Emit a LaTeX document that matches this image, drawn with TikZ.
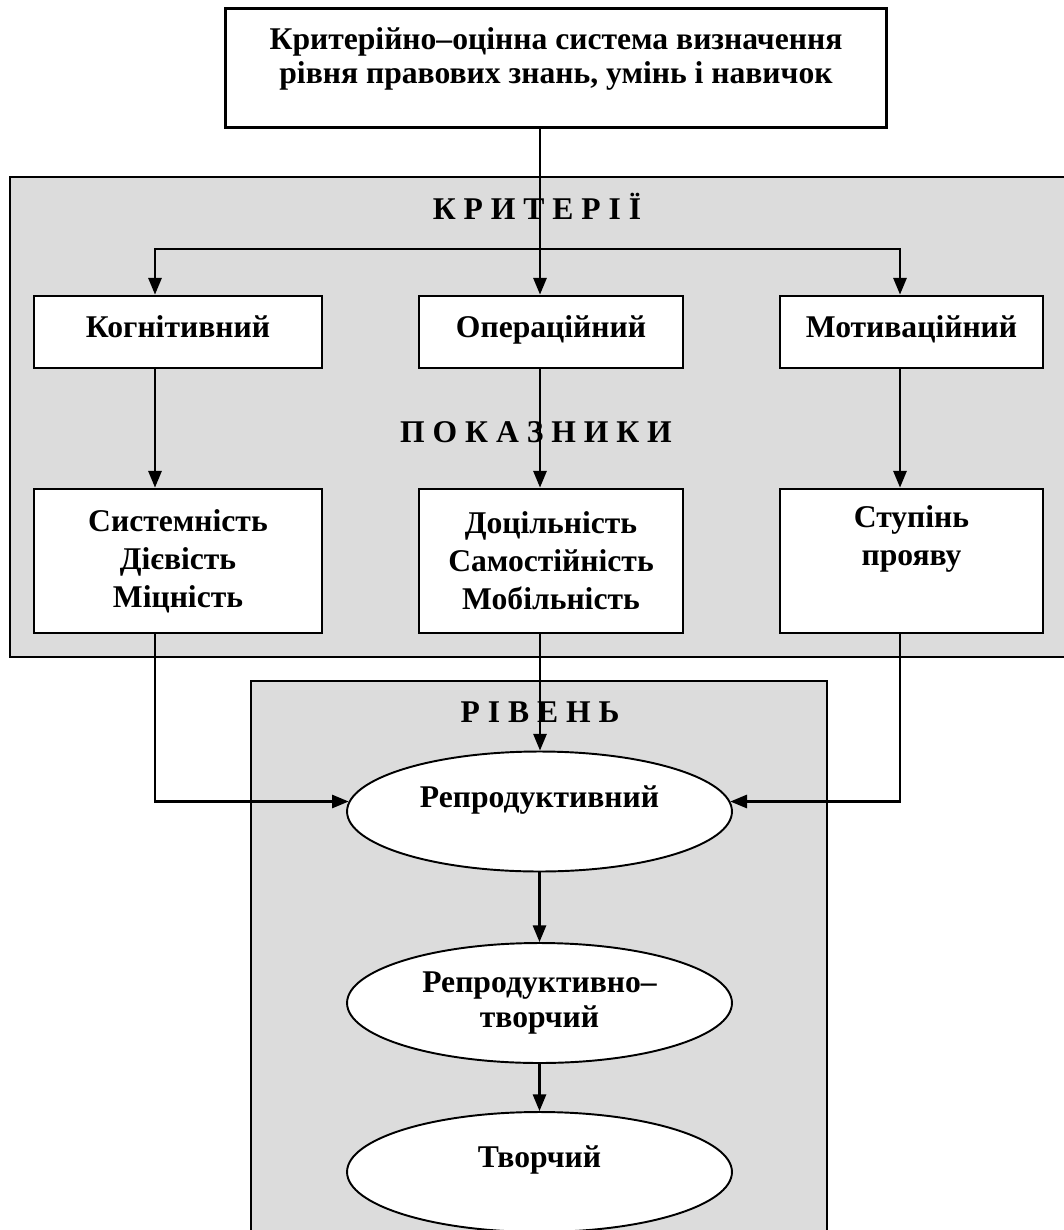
\documentclass[tikz,border=0pt]{standalone}
\usepackage{fontspec}
\setmainfont{Liberation Serif}
\usetikzlibrary{shapes.geometric,arrows.meta}

\definecolor{panelgray}{RGB}{220,220,220}

\tikzset{
  panel/.style={draw,line width=1.5pt,fill=panelgray},
  box/.style={draw,line width=1.6pt,fill=white,align=center,inner sep=0pt,
    font=\fontsize{18}{21.6}\selectfont\bfseries},
  oval/.style={ellipse,draw,line width=1.1pt,fill=white,align=center,inner sep=0pt,
    minimum width=7.7cm,minimum height=2.4cm,
    font=\fontsize{18}{19.6}\selectfont\bfseries},
  txt/.style={align=center,inner sep=0pt,font=\fontsize{18}{19.6}\selectfont\bfseries},
  arr/.style={-{Triangle[length=9.5pt,width=7.5pt]},line width=1.3pt}
}

\begin{document}
\begin{tikzpicture}[x=0.02cm,y=-0.02cm]

  \useasboundingbox (0,0) rectangle (1063,1230);

  % grey panels
  \draw[panel] (10,177) rectangle (1075,657);
  \draw[panel] (251,681) rectangle (827,1245);

  \node[box,minimum width=13.22cm,minimum height=2.38cm] (crit) at (556,68) {};
  \node[txt] (crittxt) at (556,59)
    {Критерійно–оцінна система визначення\\рівня правових знань, умінь і навичок};

  \node[txt] (kriterii)  at (537,206) {К Р И Т Е Р І Ї};
  \node[txt] (pokaznyky) at (536,432) {П О К А З Н И К И};
  \node[txt] (riven)     at (540,712) {Р І В Е Н Ь};

  % criteria
  \begin{scope}[every node/.style={box,minimum height=1.44cm,text height=0.9em,text depth=0.22em}]
    \node[minimum width=5.76cm] (kogn)  at (178,332)   {Когнітивний};
    \node[minimum width=5.28cm] (oper)  at (551,332)   {Операційний};
    \node[minimum width=5.26cm] (motiv) at (911.5,332) {Мотиваційний};
  \end{scope}

  % indicators
  \begin{scope}[every node/.style={box,minimum height=2.88cm}]
    \node[minimum width=5.76cm] (kogn2)  at (178,561)   {Системність\\Дієвість\\Міцність};
    \node[minimum width=5.28cm] (oper2)  at (551,561)   {Доцільність\\Самостійність\\Мобільність};
    \node[minimum width=5.26cm] (motiv2) at (911.5,561) {};
  \end{scope}
  \node[txt,font=\fontsize{18}{21.6}\selectfont\bfseries] (motivtxt) at (911.5,539) {Ступінь\\прояву};

  % levels
  \node[oval] (rep)   at (539.5,811.5) {};
  \node[txt]  (reptxt) at (539.5,800) {Репродуктивний};
  \node[oval] (reptv) at (539.5,1003) {Репродуктивно–\\творчий};
  \node[oval] (tv)    at (539.5,1172) {};
  \node[txt]  (tvtxt) at (539.5,1160) {Творчий};

  \coordinate (colL) at (155,249);
  \coordinate (colM) at (540,249);
  \coordinate (colR) at (900,249);

  \draw[arr] (crit.south -| colM) -- (oper.north -| colM);
  \draw[arr] (colM) -| (kogn.north -| colL);
  \draw[arr] (colM) -| (motiv.north -| colR);

  \foreach \a/\b/\c in {kogn/kogn2/colL,oper/oper2/colM,motiv/motiv2/colR}
    \draw[arr] (\a.south -| \c) -- (\b.north -| \c);

  \draw[arr] (kogn2.south -| colL) |- (rep.177);
  \draw[arr] (oper2.south -| colM) -- (rep.north -| colM);
  \draw[arr] (motiv2.south -| colR) |- (rep.3);
  \draw[arr] (rep.south) -- (reptv.north);
  \draw[arr] (reptv.south) -- (tv.north);

\end{tikzpicture}
\end{document}
